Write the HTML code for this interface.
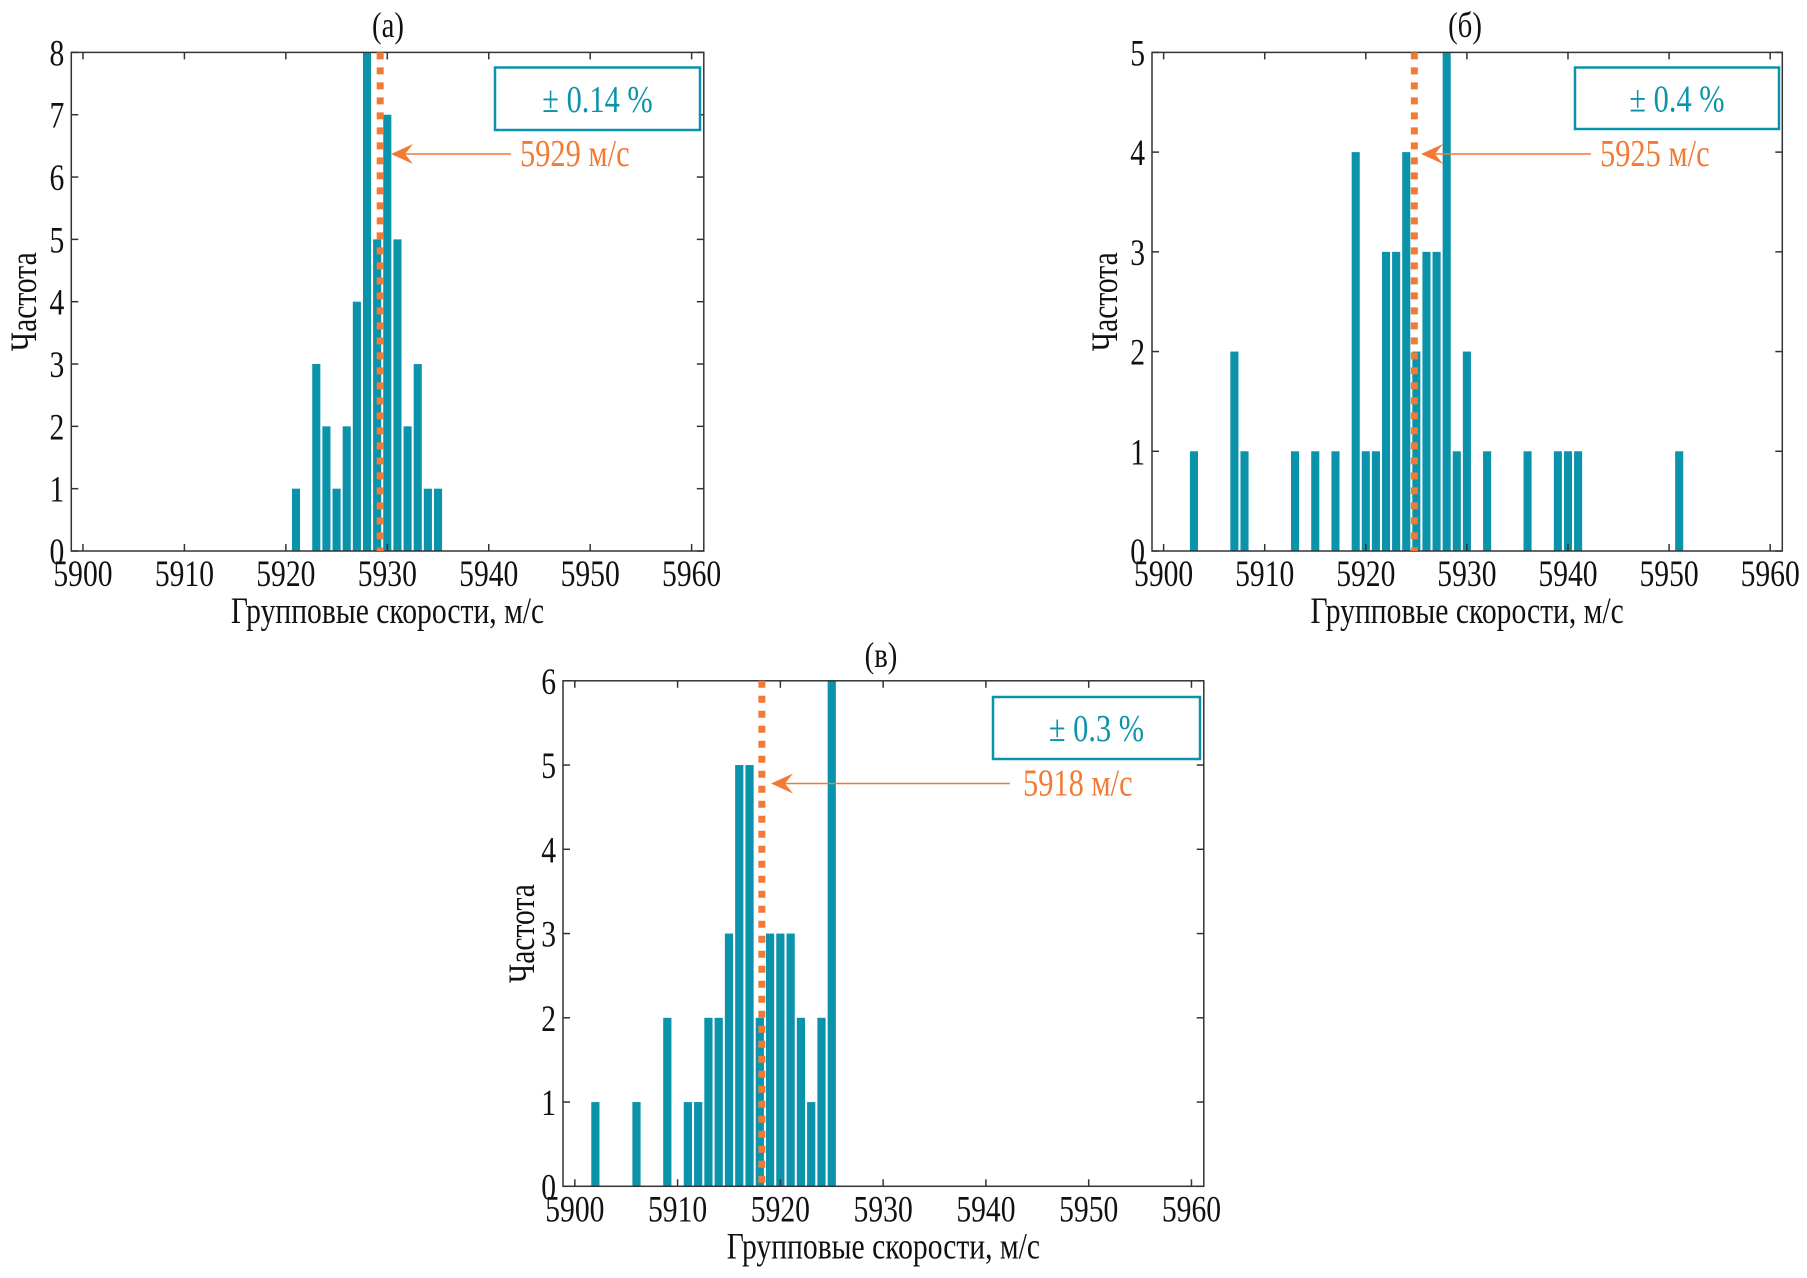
<!DOCTYPE html>
<html><head><meta charset="utf-8">
<style>
html,body{margin:0;padding:0;background:#fff;}
svg{display:block;}
text{font-family:"Liberation Serif","DejaVu Serif",serif;}
</style></head>
<body>
<svg id="fig" width="1807" height="1278" viewBox="0 0 1807 1278" xmlns="http://www.w3.org/2000/svg"></svg>
<script>
// Panel (a)
const catsA = [5921,5923,5924,5925,5926,5927,5928,5929,5930,5931,5932,5933,5934,5935];
const valsA = [1,3,2,1,2,4,8,5,7,5,2,3,1,1];
const medianA = 5929.3;
const labelA = "5929 м/с";
const pctA = "± 0.14 %";
const yTicksA = [0,1,2,3,4,5,6,7,8];
// Panel (б)
const catsB = [5903,5907,5908,5913,5915,5917,5919,5920,5921,5922,5923,5924,5925,5926,5927,5928,5929,5930,5932,5936,5939,5940,5941,5951];
const valsB = [1,2,1,1,1,1,4,1,1,3,3,4,2,3,3,5,1,2,1,1,1,1,1,1];
const medianB = 5924.8;
const labelB = "5925 м/с";
const pctB = "± 0.4 %";
const yTicksB = [0,1,2,3,4,5];
// Panel (в)
const catsC = [5902,5906,5909,5911,5912,5913,5914,5915,5916,5917,5918,5919,5920,5921,5922,5923,5924,5925];
const valsC = [1,1,2,1,1,2,2,3,5,5,2,3,3,3,2,1,2,6];
const medianC = 5918.2;
const labelC = "5918 м/с";
const pctC = "± 0.3 %";
const yTicksC = [0,1,2,3,4,5,6];
const xTicks = [5900,5910,5920,5930,5940,5950,5960];

const NS = "http://www.w3.org/2000/svg";
const svg = document.getElementById('fig');
const TEAL = "#0b93ab", ORANGE = "#f37a35";
const SX = 0.8;

function mk(tag, attrs, parent, text){
  const e = document.createElementNS(NS, tag);
  for (const k in attrs) e.setAttribute(k, attrs[k]);
  if (text !== undefined) e.textContent = text;
  (parent||svg).appendChild(e);
  return e;
}
function txt(x, y, size, anchor, fill, s, parent, rot){
  const tr = `translate(${x} ${y})` + (rot ? ` rotate(${rot})` : '') + ` scale(${SX} 1)`;
  return mk('text', {x: 0, y: 0, transform: tr, 'font-size': size, 'text-anchor': anchor, fill: fill,
    'font-family': 'Liberation Serif, DejaVu Serif, serif'}, parent, s);
}

function panel(p){
  const g = mk('g', {});
  
  
  const xmin = 5898.85, xmax = 5961.2;
  const X = v => p.L + (v - xmin) / (xmax - xmin) * (p.R - p.L);
  const Y = v => p.B - v / p.ymax * (p.B - p.T);
  p.cats.forEach((c, i) => {
    const r = mk('rect', {x: X(c - 0.4), y: Y(p.vals[i]), width: X(c + 0.4) - X(c - 0.4), height: p.B - Y(p.vals[i]), fill: TEAL}, g);
    
    
  });
  const box = mk('rect', {x: p.L, y: p.T, width: p.R - p.L, height: p.B - p.T, fill: 'none', stroke: '#333', 'stroke-width': 1.5}, g);
  
  
  xTicks.forEach(t => {
    const x = X(t);
    mk('line', {x1: x, x2: x, y1: p.B, y2: p.B - 7, stroke: '#333', 'stroke-width': 1.5}, g);
    mk('line', {x1: x, x2: x, y1: p.T, y2: p.T + 7, stroke: '#333', 'stroke-width': 1.5}, g);
    const tl = txt(x, p.B + 35, 37, 'middle', '#111', String(t), g);
    
    
  });
  p.yTicks.forEach(t => {
    const y = Y(t);
    mk('line', {x1: p.L, x2: p.L + 7, y1: y, y2: y, stroke: '#333', 'stroke-width': 1.5}, g);
    mk('line', {x1: p.R, x2: p.R - 7, y1: y, y2: y, stroke: '#333', 'stroke-width': 1.5}, g);
    const tl = txt(p.L - 7, y + 13, 37, 'end', '#111', String(t), g);
    
    
  });
  const ml = mk('line', {x1: X(p.median), x2: X(p.median), y1: p.T, y2: p.B, stroke: ORANGE, 'stroke-width': 7, 'stroke-dasharray': '7 8'}, g);
  
  
  const ar = mk('line', {x1: p.arrow[0], x2: p.arrow[1] + 4, y1: p.arrowY, y2: p.arrowY, stroke: ORANGE, 'stroke-width': 1.5}, g);
  
  
  const ax = p.arrow[1];
  mk('path', {d: `M${ax},${p.arrowY} L${ax+22},${p.arrowY-10} L${ax+14},${p.arrowY} L${ax+22},${p.arrowY+10} Z`, fill: ORANGE}, g);
  const lb = txt(p.labelX, p.arrowY + 12, 38, 'start', ORANGE, p.label, g);
  
  
  const pb = mk('rect', {x: p.box[0], y: p.box[1], width: p.box[2] - p.box[0], height: p.box[3] - p.box[1], fill: '#fff', stroke: TEAL, 'stroke-width': 2.5}, g);
  
  
  const pt = txt((p.box[0] + p.box[2]) / 2, (p.box[1] + p.box[3]) / 2 + 13, 38, 'middle', TEAL, p.pct, g);
  
  
  const tt = txt(p.titleX, p.titleY, 36, 'middle', '#111', p.title, g);
  
  
  const xt = txt((p.L + p.R) / 2, p.B + 72, 37, 'middle', '#111', 'Групповые скорости, м/с', g);
  
  
  const yc = (p.T + p.B) / 2;
  const yt = txt(p.yTitleX, yc, 37, 'middle', '#111', 'Частота', g, -90);
  
  
}

panel({id:'a', L:71.3, R:703.8, T:52.4, B:551, ymax:8, cats:catsA, vals:valsA, yTicks:yTicksA, median:medianA,
  label:labelA, pct:pctA, box:[495,67.5,700,130], arrow:[511,391], arrowY:154, labelX:520, title:'(а)', titleX:388, titleY:37, yTitleX:36});
panel({id:'b', L:1152, R:1782.3, T:52.4, B:551, ymax:5, cats:catsB, vals:valsB, yTicks:yTicksB, median:medianB,
  label:labelB, pct:pctB, box:[1575,67.5,1779,129], arrow:[1591,1421], arrowY:154, labelX:1600, title:'(б)', titleX:1465, titleY:37, yTitleX:1117});
panel({id:'c', L:563, R:1203.8, T:680.8, B:1186.3, ymax:6, cats:catsC, vals:valsC, yTicks:yTicksC, median:medianC,
  label:labelC, pct:pctC, box:[993,697,1200,759], arrow:[1010,771], arrowY:783.5, labelX:1023, title:'(в)', titleX:881, titleY:667, yTitleX:534});
</script>
</body></html>
